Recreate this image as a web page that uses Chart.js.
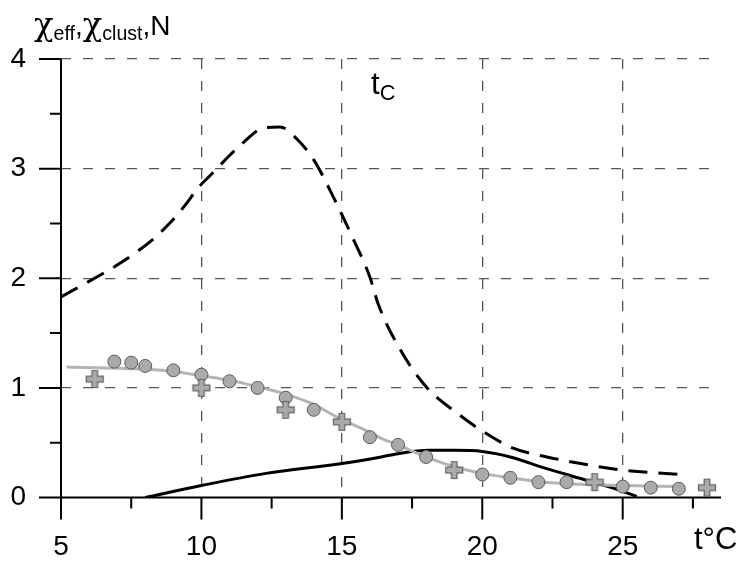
<!DOCTYPE html>
<html>
<head>
<meta charset="utf-8">
<script src="https://cdn.jsdelivr.net/npm/chart.js@4"></script>
<style>
  body { margin: 0; background: #fff; }
  #wrap { position: relative; width: 744px; height: 563px; font-family: "Liberation Sans", Arial, sans-serif; color: #000; }
  .lbl { position: absolute; white-space: nowrap; line-height: 1; }
  .lbl sub { font-size: 0.7em; vertical-align: -0.28em; line-height: 0; }
  .chi { font-family: "DejaVu Serif", "Liberation Serif", serif; font-size: 1.15em; }
</style>
</head>
<body>
<div id="wrap">
  <canvas id="c" width="744" height="563"></canvas>
  <div class="lbl" style="left:34px; top:8px; font-size:28px;"><span class="chi">&chi;</span><sub>eff</sub>,<span class="chi">&chi;</span><sub>clust</sub>,N</div>
  <div class="lbl" style="left:371px; top:68px; font-size:31px;">t<sub>C</sub></div>
  <div class="lbl" style="left:694px; top:523px; font-size:31px;">t&deg;C</div>
</div>
<script>
// dashed black curve
const dashX = [5, 6.4, 7.0, 7.75, 8.3, 8.9, 9.4, 9.9, 10.4, 11.0, 11.5, 12.2, 12.8, 13.4, 14.0, 14.7, 15.4, 16.0, 16.3, 17.1, 18.0, 19.1, 20.1, 21.1, 22.3, 23.5, 25.0, 27.1];
const dashY = [1.83, 2.03, 2.12, 2.25, 2.36, 2.51, 2.66, 2.83, 2.96, 3.12, 3.24, 3.37, 3.38, 3.27, 3.08, 2.74, 2.36, 2.01, 1.76, 1.34, 1.01, 0.77, 0.59, 0.45, 0.37, 0.31, 0.25, 0.21];

// solid black curve
const nX = [8.0, 10, 12.3, 15, 16.4, 17.0, 18.1, 19.0, 20, 21, 22.2, 23.4, 24.6, 25.5];
const nY = [0, 0.11, 0.22, 0.31, 0.37, 0.40, 0.43, 0.43, 0.42, 0.37, 0.27, 0.18, 0.09, 0.01];

// grey fitted curve
const fitX = [5.2, 7, 8, 9, 10, 11, 12, 12.9, 13.9, 15, 15.7, 16.4, 17, 18, 19, 20, 21, 22.2, 23.5, 25, 27];
const fitY = [1.19, 1.18, 1.17, 1.15, 1.11, 1.07, 1.01, 0.95, 0.86, 0.71, 0.63, 0.54, 0.48, 0.37, 0.28, 0.22, 0.18, 0.14, 0.12, 0.11, 0.10];

// circle markers
const circX = [6.9, 7.5, 8.0, 9, 10, 11, 12, 13, 14, 16, 17, 18, 20, 21, 22, 23, 25, 26, 27];
const circY = [1.24, 1.23, 1.20, 1.16, 1.12, 1.06, 1.00, 0.91, 0.80, 0.55, 0.48, 0.37, 0.21, 0.18, 0.14, 0.14, 0.10, 0.09, 0.08];

// plus markers
const plusX = [6.2, 10, 13, 15, 19, 24, 28];
const plusY = [1.08, 1.00, 0.80, 0.69, 0.25, 0.14, 0.09];

// ticks
const xTicks = [5, 10, 15, 20, 25];
const xMinor = [7.5, 12.5, 17.5, 22.5, 27.5];
const yTicks = [0, 1, 2, 3, 4];
const yMinor = [0.5, 1.5, 2.5, 3.5];

const pts = (xs, ys) => xs.map((x, i) => ({ x: x, y: ys[i] }));

// filled plus marker
const plusImg = document.createElement('canvas');
plusImg.width = 20; plusImg.height = 20;
(function () {
  const g = plusImg.getContext('2d');
  const b = 2.8, r = 8.5, c = 10;
  g.beginPath();
  g.moveTo(c - b, c - r); g.lineTo(c + b, c - r); g.lineTo(c + b, c - b);
  g.lineTo(c + r, c - b); g.lineTo(c + r, c + b); g.lineTo(c + b, c + b);
  g.lineTo(c + b, c + r); g.lineTo(c - b, c + r); g.lineTo(c - b, c + b);
  g.lineTo(c - r, c + b); g.lineTo(c - r, c - b); g.lineTo(c - b, c - b);
  g.closePath();
  g.fillStyle = '#aaaaaa'; g.fill();
  g.strokeStyle = '#606060'; g.lineWidth = 1.2; g.stroke();
})();

const axesPlugin = {
  id: 'axes',
  beforeDatasetsDraw(chart) {
    const { ctx, scales: { x, y } } = chart;
    const x0 = x.getPixelForValue(5), xr = x.getPixelForValue(28.5);
    const yb = y.getPixelForValue(0), yt = y.getPixelForValue(4);
    ctx.save();
    ctx.strokeStyle = '#000';
    ctx.lineWidth = 2;
    ctx.beginPath();
    ctx.moveTo(x0, yt); ctx.lineTo(x0, yb);
    ctx.moveTo(x0, yb); ctx.lineTo(xr, yb);
    xTicks.forEach(v => { const p = x.getPixelForValue(v); ctx.moveTo(p, yb); ctx.lineTo(p, yb + 22); });
    xMinor.forEach(v => { const p = x.getPixelForValue(v); ctx.moveTo(p, yb); ctx.lineTo(p, yb + 11); });
    yTicks.forEach(v => { const p = y.getPixelForValue(v); ctx.moveTo(x0, p); ctx.lineTo(x0 - 22, p); });
    yMinor.forEach(v => { const p = y.getPixelForValue(v); ctx.moveTo(x0, p); ctx.lineTo(x0 - 11, p); });
    ctx.stroke();
    ctx.restore();
  }
};

const tickFont = { family: '"Liberation Sans", Arial, sans-serif', size: 28 };

new Chart(document.getElementById('c'), {
  type: 'scatter',
  data: {
    datasets: [
      {
        data: pts(plusX, plusY), pointStyle: plusImg, showLine: false
      },
      {
        data: pts(circX, circY), pointStyle: 'circle', pointRadius: 6.5,
        backgroundColor: '#aaaaaa', borderColor: '#5a5a5a', borderWidth: 1, showLine: false
      },
      {
        data: pts(fitX, fitY), showLine: true, pointRadius: 0, borderColor: '#b4b4b4',
        borderWidth: 3, cubicInterpolationMode: 'monotone'
      },
      {
        data: pts(nX, nY), showLine: true, pointRadius: 0, borderColor: '#000',
        borderWidth: 3, cubicInterpolationMode: 'monotone'
      },
      {
        data: pts(dashX, dashY), showLine: true, pointRadius: 0, borderColor: '#000',
        borderWidth: 3, borderDash: [19, 11], cubicInterpolationMode: 'monotone'
      }
    ]
  },
  options: {
    responsive: false,
    devicePixelRatio: 1,
    animation: false,
    layout: { padding: { top: 59, right: 23, left: 0, bottom: 0 } },
    plugins: { legend: { display: false }, tooltip: { enabled: false } },
    scales: {
      x: {
        type: 'linear', min: 5, max: 28.5,
        afterFit: s => { s.height = 65.5; },
        afterBuildTicks: s => { s.ticks = xTicks.map(v => ({ value: v })); },
        ticks: { font: tickFont, color: '#000', padding: 33, maxRotation: 0 },
        grid: {
          drawTicks: false, lineWidth: 1.3,
          color: c => (c.tick && c.tick.value !== 5) ? '#555' : 'rgba(0,0,0,0)'
        },
        border: { display: false, dash: [10, 12] }
      },
      y: {
        type: 'linear', min: 0, max: 4,
        afterFit: s => { s.width = 61; },
        afterBuildTicks: s => { s.ticks = yTicks.map(v => ({ value: v })); },
        ticks: { font: tickFont, color: '#000', padding: 35 },
        grid: {
          drawTicks: false, lineWidth: 1.3,
          color: c => (c.tick && c.tick.value !== 0) ? '#555' : 'rgba(0,0,0,0)'
        },
        border: { display: false, dash: [10, 12] }
      }
    }
  },
  plugins: [axesPlugin]
});
</script>
</body>
</html>
